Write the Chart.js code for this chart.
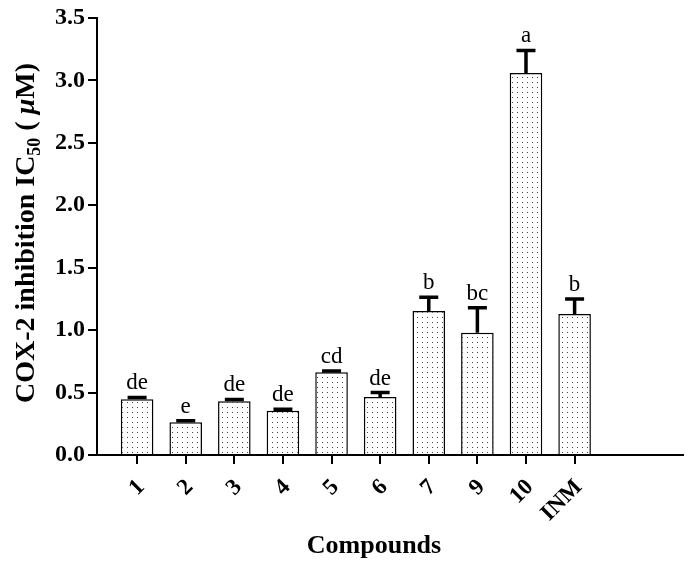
<!DOCTYPE html>
<html>
<head>
<meta charset="utf-8">
<script src="https://cdn.jsdelivr.net/npm/chart.js@4.4.1/dist/chart.umd.min.js"></script>
<style>
  body { margin: 0; background: #fff; }
  #wrap { width: 696px; height: 571px; }
</style>
</head>
<body>
<div id="wrap"><canvas id="cox2"></canvas></div>
<script>
// data
const compounds = ["1", "2", "3", "4", "5", "6", "7", "9", "10", "INM"];
const ic50 = [0.446, 0.262, 0.43, 0.355, 0.663, 0.465, 1.154, 0.98, 3.06, 1.13];
const sem = [0.015, 0.012, 0.015, 0.012, 0.01, 0.035, 0.11, 0.2, 0.18, 0.12];
const letters = ["de", "e", "de", "de", "cd", "de", "b", "bc", "a", "b"];
const yTicks = [0, 0.5, 1, 1.5, 2, 2.5, 3, 3.5];

const serif = "'Liberation Serif', 'DejaVu Serif', serif";

// dotted fill like the original
function dotPattern() {
  const c = document.createElement("canvas");
  c.width = 5; c.height = 5;
  const g = c.getContext("2d");
  g.fillStyle = "#fff";
  g.fillRect(0, 0, 5, 5);
  g.fillStyle = "#444";
  g.fillRect(2, 2, 1, 1);
  return g.createPattern(c, "repeat");
}

const errorBars = {
  id: "errorBars",
  afterDatasetsDraw(chart) {
    const ctx = chart.ctx;
    const y = chart.scales.y;
    const meta = chart.getDatasetMeta(0);
    ctx.save();
    meta.data.forEach((bar, i) => {
      const top = y.getPixelForValue(ic50[i] + sem[i]);
      ctx.strokeStyle = "#000";
      ctx.lineWidth = 3.5;
      ctx.beginPath();
      ctx.moveTo(bar.x, bar.y);
      ctx.lineTo(bar.x, top);
      ctx.moveTo(bar.x - 9.5, top);
      ctx.lineTo(bar.x + 9.5, top);
      ctx.stroke();
      ctx.fillStyle = "#000";
      ctx.font = "23px " + serif;
      ctx.textAlign = "center";
      ctx.textBaseline = "alphabetic";
      ctx.fillText(letters[i], bar.x, top - 8);
    });
    ctx.restore();
  }
};

const axisTitles = {
  id: "axisTitles",
  afterDraw(chart) {
    const ctx = chart.ctx;
    ctx.save();
    ctx.fillStyle = "#000";
    ctx.textBaseline = "alphabetic";

    // x title
    ctx.font = "bold 26px " + serif;
    ctx.textAlign = "center";
    ctx.fillText("Compounds", 374, 553);

    // y title with subscript and italic mu
    const parts = [
      { t: "COX-2 inhibition IC", f: "bold 28px " + serif, dy: 0 },
      { t: "50", f: "bold 18px " + serif, dy: 6 },
      { t: " ( ", f: "bold 28px " + serif, dy: 0 },
      { t: "\u03bc", f: "italic bold 28px " + serif, dy: 0 },
      { t: "M)", f: "bold 28px " + serif, dy: 0 }
    ];
    let total = 0;
    parts.forEach(p => { ctx.font = p.f; p.w = ctx.measureText(p.t).width; total += p.w; });
    ctx.translate(34, 233);
    ctx.rotate(-Math.PI / 2);
    ctx.textAlign = "left";
    let x = -total / 2;
    parts.forEach(p => {
      ctx.font = p.f;
      ctx.fillText(p.t, x, p.dy);
      x += p.w;
    });
    ctx.restore();
  }
};

const ctx = document.getElementById("cox2").getContext("2d");
new Chart(ctx, {
  type: "bar",
  data: {
    datasets: [
      {
        label: "IC50",
        data: ic50.map((v, i) => ({ x: i + 1, y: v })),
        backgroundColor: dotPattern(),
        borderColor: "#000",
        borderWidth: 1.5,
        barPercentage: 0.67,
        categoryPercentage: 1
      }
    ]
  },
  options: {
    responsive: true,
    maintainAspectRatio: false,
    animation: false,
    layout: { padding: { top: 18, right: 13, left: 0, bottom: 0 } },
    plugins: { legend: { display: false }, tooltip: { enabled: false } },
    scales: {
      x: {
        type: "linear",
        offset: false,
        min: 0.175,
        max: 12.23,
        afterFit: (s) => { s.height = 116; },
        afterBuildTicks: (s) => {
          s.ticks = compounds.map((c, i) => ({ value: i + 1 }));
        },
        ticks: {
          stepSize: 1,
          autoSkip: false,
          minRotation: 45,
          maxRotation: 45,
          padding: 10,
          labelOffset: 4,
          color: "#000",
          font: { family: serif, size: 23, weight: "bold" },
          callback: (v) => compounds[v - 1] ?? ""
        },
        grid: { offset: false, drawOnChartArea: false, drawTicks: true, tickLength: 9, color: "#000", lineWidth: 2 },
        border: { display: true, color: "#000", width: 2 }
      },
      y: {
        min: 0,
        max: 3.5,
        afterFit: (s) => { s.width = 97; },
        afterBuildTicks: (s) => { s.ticks = yTicks.map(v => ({ value: v })); },
        ticks: {
          stepSize: 0.5,
          padding: 3,
          color: "#000",
          font: { family: serif, size: 24, weight: "bold" },
          callback: (v) => v.toFixed(1)
        },
        grid: { drawOnChartArea: false, drawTicks: true, tickLength: 9, color: "#000", lineWidth: 2 },
        border: { display: true, color: "#000", width: 2 }
      }
    }
  },
  plugins: [errorBars, axisTitles]
});
</script>
</body>
</html>
